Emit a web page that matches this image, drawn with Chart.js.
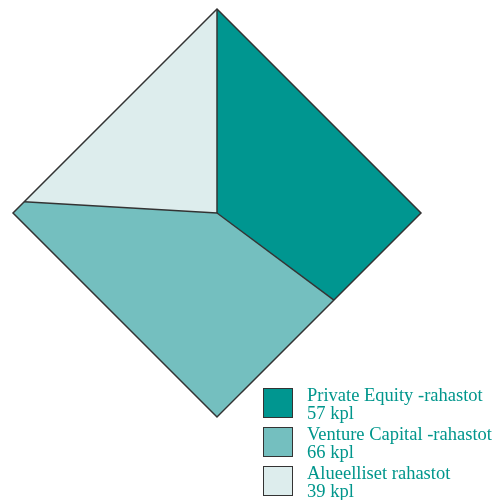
<!DOCTYPE html>
<html>
<head>
<meta charset="utf-8">
<script src="https://cdn.jsdelivr.net/npm/chart.js@4/dist/chart.umd.min.js"></script>
<style>
  body { margin: 0; background: #fff; }
  #wrap { position: relative; width: 496px; height: 500px; }
  #legend { position: absolute; left: 263px; top: 386px; font-family: 'Liberation Serif', serif; font-size: 18.5px; color: #00968c; }
  .item { position: relative; height: 39px; }
  .box { position: absolute; left: 0; top: 2px; width: 30px; height: 30px; box-sizing: border-box; border: 1px solid #333; }
  .txt { position: absolute; left: 44px; top: 0; line-height: 18px; white-space: nowrap; }
</style>
</head>
<body>
<div id="wrap">
  <canvas id="rahastot"></canvas>
  <div id="legend"></div>
</div>
<script>
const labels = ['Private Equity -rahastot', 'Venture Capital -rahastot', 'Alueelliset rahastot'];
const values = [57, 66, 39];
const unit = 'kpl';
const colors = ['#009690', '#74bfbf', '#ddeded'];

// piirretään piirakka vinoneliönä ympyrän sijaan
function edgePoint(cx, cy, r, a) {
    const k = r / (Math.abs(Math.cos(a)) + Math.abs(Math.sin(a)));
    return [cx + k * Math.cos(a), cy + k * Math.sin(a)];
}

const diamondPie = {
    id: 'diamondPie',
    beforeDatasetDraw(chart, args) {
        const ctx = chart.ctx;
        const arcs = args.meta.data;
        const q = Math.PI / 2;
        ctx.save();
        arcs.forEach((arc, i) => {
            const {x, y, startAngle, endAngle, outerRadius} = arc;
            ctx.beginPath();
            ctx.moveTo(x, y);
            let p = edgePoint(x, y, outerRadius, startAngle);
            ctx.lineTo(p[0], p[1]);
            for (let k = Math.ceil(startAngle / q); k * q < endAngle; k++) {
                if (k * q - startAngle < 1e-6) continue;
                p = edgePoint(x, y, outerRadius, k * q);
                ctx.lineTo(p[0], p[1]);
            }
            p = edgePoint(x, y, outerRadius, endAngle);
            ctx.lineTo(p[0], p[1]);
            ctx.closePath();
            ctx.fillStyle = colors[i];
            ctx.fill();
        });
        ctx.strokeStyle = '#333';
        ctx.lineWidth = 1.5;
        const a0 = arcs[0];
        ctx.beginPath();
        for (let k = 0; k < 4; k++) {
            const p = edgePoint(a0.x, a0.y, a0.outerRadius, k * Math.PI / 2);
            if (k === 0) ctx.moveTo(p[0], p[1]); else ctx.lineTo(p[0], p[1]);
        }
        ctx.closePath();
        ctx.stroke();
        arcs.forEach(arc => {
            const p = edgePoint(arc.x, arc.y, arc.outerRadius, arc.startAngle);
            ctx.beginPath();
            ctx.moveTo(arc.x, arc.y);
            ctx.lineTo(p[0], p[1]);
            ctx.stroke();
        });
        ctx.restore();
        return false;
    }
};

const ctx = document.getElementById('rahastot').getContext('2d');
const chart_rahastot = new Chart(ctx, {
    type: 'pie',
    data: {
        labels: labels,
        datasets: [{
            data: values,
            backgroundColor: colors,
            borderWidth: 0
        }]
    },
    options: {
        responsive: true,
        maintainAspectRatio: false,
        animation: false,
        layout: {
            padding: { left: 13, top: 9, right: 75, bottom: 83 }
        },
        plugins: {
            legend: { display: false },
            tooltip: { enabled: false }
        }
    },
    plugins: [diamondPie]
});

// selite HTML:nä
const legend = document.getElementById('legend');
labels.forEach((l, i) => {
    const item = document.createElement('div');
    item.className = 'item';
    item.innerHTML = '<div class="box" style="background:' + colors[i] + '"></div>' +
        '<div class="txt">' + l + '<br>' + values[i] + ' ' + unit + '</div>';
    legend.appendChild(item);
});
</script>
</body>
</html>
